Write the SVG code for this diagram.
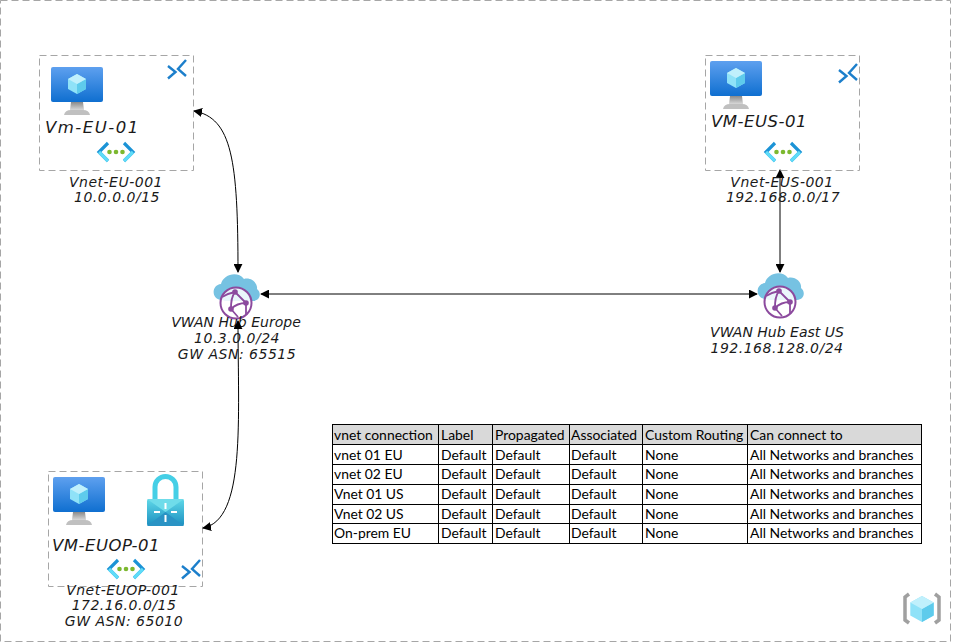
<svg xmlns="http://www.w3.org/2000/svg" width="953" height="644" viewBox="0 0 953 644">
<style>
.hand{font-family:"DejaVu Sans",sans-serif;font-style:italic;font-size:14px;letter-spacing:.5px;fill:#1a1a1a;text-anchor:middle}
.tight{letter-spacing:0}
.vm{text-anchor:start;font-size:16.5px}
.box{fill:none;stroke:#a6a6a6;stroke-width:1;stroke-dasharray:7 4}
.c{fill:none;stroke:#000;stroke-width:1;marker-start:url(#a);marker-end:url(#a)}
.t{font-family:Lato,"Liberation Sans",sans-serif;font-size:13.9px;fill:#000}
.g{stroke:#000;stroke-width:1;fill:none}
</style>
<defs>
<marker id="a" viewBox="0 0 10 10" refX="9" refY="5" markerWidth="9" markerHeight="9" markerUnits="userSpaceOnUse" orient="auto-start-reverse"><path d="M0 0L10 5L0 10z" fill="#000"/></marker>
<linearGradient id="scr" x1="0" y1="0" x2="0" y2="1"><stop offset="0" stop-color="#5ea0ef"/><stop offset="1" stop-color="#0f6fd0"/></linearGradient>
<linearGradient id="st" x1="0" y1="0" x2="0" y2="1"><stop offset="0" stop-color="#8a8a8a"/><stop offset="1" stop-color="#d8d8d8"/></linearGradient>
<linearGradient id="lk" x1="0" y1="0" x2="0" y2="1"><stop offset="0" stop-color="#5fd8e8"/><stop offset="1" stop-color="#1c8fc0"/></linearGradient>
<g id="cube">
<path d="M0-10L9-5V5L0 10L-9 5V-5z" fill="#8fe2f8"/><path d="M0 0L9-5V5L0 10z" fill="#5ecbec"/><path d="M0-10L9-5L0 0L-9-5z" fill="#c0f0fc"/>
</g>
<g id="vmi">
<rect x="0" y="0" width="52" height="35" rx="2" fill="url(#scr)"/>
<path d="M20 35H32L33 43H19z" fill="url(#st)"/><path d="M13 48Q14 43 20 43H32Q38 43 39 48z" fill="#c0c0c0"/>
<use href="#cube" x="26" y="17"/>
</g>
<g id="peer">
<path d="M4 6L11.500 12L4 18.500" fill="none" stroke="#1c7fcb" stroke-width="2.400"/>
<path d="M22 0L14 9L22 16" fill="none" stroke="#1c7fcb" stroke-width="2.400"/>
</g>
<g id="vnet">
<path d="M11 1L2 10L11 19" fill="none" stroke="#1b93d6" stroke-width="3.200"/><path d="M27 1L36 10L27 19" fill="none" stroke="#1b93d6" stroke-width="3.200"/>
<path d="M2 10L11 19M36 10L27 19" fill="none" stroke="#5fdcf8" stroke-width="3.200"/>
<circle cx="12.500" cy="10" r="2.300" fill="#7cb82f"/><circle cx="19" cy="10" r="2.300" fill="#7cb82f"/><circle cx="25.500" cy="10" r="2.300" fill="#7cb82f"/>
</g>
<g id="hub">
<path d="M9 27C-2 27-2 12 8 11C10 2 24-3 31 6C38 4 45 10 44 16C49 20 47 28 40 28L12 28z" fill="#76c2e2"/>
<circle cx="23" cy="30" r="15.500" fill="#fff" fill-opacity=".85" stroke="#8c4a9e" stroke-width="2"/>
<path d="M22 19L33 30M22 19C18 24 18 30 18 36M18 36C23 31 28 30 33 30M22 19C17 20 12 22 9 24M18 36L25 44M33 30L33 41" fill="none" stroke="#8c4a9e" stroke-width="1.800"/>
<circle cx="22" cy="19" r="2.800" fill="#8c4a9e"/><circle cx="33" cy="30" r="2.800" fill="#8c4a9e"/><circle cx="18" cy="36" r="2.800" fill="#8c4a9e"/>
</g>
</defs>
<rect width="953" height="644" fill="#fff"/>
<rect class="box" x="0.500" y="0.500" width="950" height="641"/>
<g id="connectors">
<path class="c" d="M194 111C232 118 238 160 238 272"/>
<path class="c" d="M261 294H757"/>
<path class="c" d="M780 170V272"/>
</g>
<g id="vnet-eu">
<rect class="box" x="39.500" y="55.500" width="154" height="115"/>
<use href="#vmi" x="51" y="67"/><use href="#peer" x="164" y="60"/><use href="#vnet" x="97" y="142"/>
<text class="hand vm" x="45" y="133" style="letter-spacing:1.5px">Vm-EU-01</text>
<text class="hand" x="116" y="187">Vnet-EU-001</text><text class="hand" x="117" y="202">10.0.0.0/15</text>
</g>
<g id="vnet-eus">
<rect class="box" x="705.500" y="55.500" width="154" height="115"/>
<use href="#vmi" x="710" y="61"/><use href="#peer" x="835" y="64"/><use href="#vnet" x="764" y="142"/>
<text class="hand vm" x="711" y="127">VM-EUS-01</text>
<text class="hand" x="782" y="187">Vnet-EUS-001</text><text class="hand" x="783" y="202">192.168.0.0/17</text>
</g>
<g id="vnet-euop">
<rect class="box" x="48.500" y="471.500" width="154" height="115"/>
<use href="#vmi" x="53" y="477"/>
<g id="vpn-gateway"><path d="M155 499V487A10.500 10.500 0 0 1 176 487V499" fill="none" stroke="#45cfe6" stroke-width="5"/><rect x="147" y="499" width="37" height="27" rx="2" fill="url(#lk)"/><path d="M147 499L165.500 512L184 499z" fill="#6fdcea"/><path d="M147 526L165.500 512L184 526z" fill="#2a93c4"/><path d="M165.500 503V509M165.500 515V522M154 512H160M171 512H177" stroke="#fff" stroke-width="2"/></g>
<use href="#vnet" x="107" y="559"/><use href="#peer" x="178" y="560"/>
<text class="hand vm" x="52" y="551">VM-EUOP-01</text>
<text class="hand" x="123" y="595">Vnet-EUOP-001</text><text class="hand" x="124" y="610">172.16.0.0/15</text><text class="hand" x="124" y="626">GW ASN: 65010</text>
</g>
<g id="hub-europe">
<use href="#hub" x="213" y="273"/>
<text class="hand tight" x="236" y="327">VWAN Hub Europe</text><text class="hand" x="237" y="343">10.3.0.0/24</text><text class="hand" x="237" y="359">GW ASN: 65515</text>
</g>
<g id="hub-eastus">
<use href="#hub" x="757" y="272"/>
<text class="hand tight" x="777" y="337">VWAN Hub East US</text><text class="hand" x="777" y="353">192.168.128.0/24</text>
</g>
<g id="connectors-front">
<path class="c" d="M238 321C238 420 246 520 203 528"/>
</g>
<g id="table">
<rect x="332" y="424" width="589" height="21" fill="#d9d9d9"/>
<path class="g" d="M332 424.500H921M332 444.500H921M332 464.500H921M332 484.500H921M332 504.500H921M332 523.500H921M332 543.500H921M332.500 424V544M438.500 424V544M492.500 424V544M569.500 424V544M642.500 424V544M747.500 424V544M921.500 424V544"/>
<g class="t">
<text x="334" y="440">vnet connection</text><text x="441" y="440">Label</text><text x="495" y="440">Propagated</text><text x="571" y="440">Associated</text><text x="645" y="440">Custom Routing</text><text x="750" y="440">Can connect to</text>
<text x="334" y="460">vnet 01 EU</text><text x="441" y="460">Default</text><text x="495" y="460">Default</text><text x="571" y="460">Default</text><text x="645" y="460">None</text><text x="750" y="460">All Networks and branches</text>
<text x="334" y="479">vnet 02 EU</text><text x="441" y="479">Default</text><text x="495" y="479">Default</text><text x="571" y="479">Default</text><text x="645" y="479">None</text><text x="750" y="479">All Networks and branches</text>
<text x="334" y="499">Vnet 01 US</text><text x="441" y="499">Default</text><text x="495" y="499">Default</text><text x="571" y="499">Default</text><text x="645" y="499">None</text><text x="750" y="499">All Networks and branches</text>
<text x="334" y="519">Vnet 02 US</text><text x="441" y="519">Default</text><text x="495" y="519">Default</text><text x="571" y="519">Default</text><text x="645" y="519">None</text><text x="750" y="519">All Networks and branches</text>
<text x="334" y="538">On-prem EU</text><text x="441" y="538">Default</text><text x="495" y="538">Default</text><text x="571" y="538">Default</text><text x="645" y="538">None</text><text x="750" y="538">All Networks and branches</text>
</g>
</g>
<g id="logo">
<path d="M909 594L905 597V620L909 623M935 594L939 597V620L935 623" fill="none" stroke="#a0a0a0" stroke-width="3.500"/>
<use href="#cube" transform="translate(922 609) scale(1.300)"/>
</g>
</svg>
